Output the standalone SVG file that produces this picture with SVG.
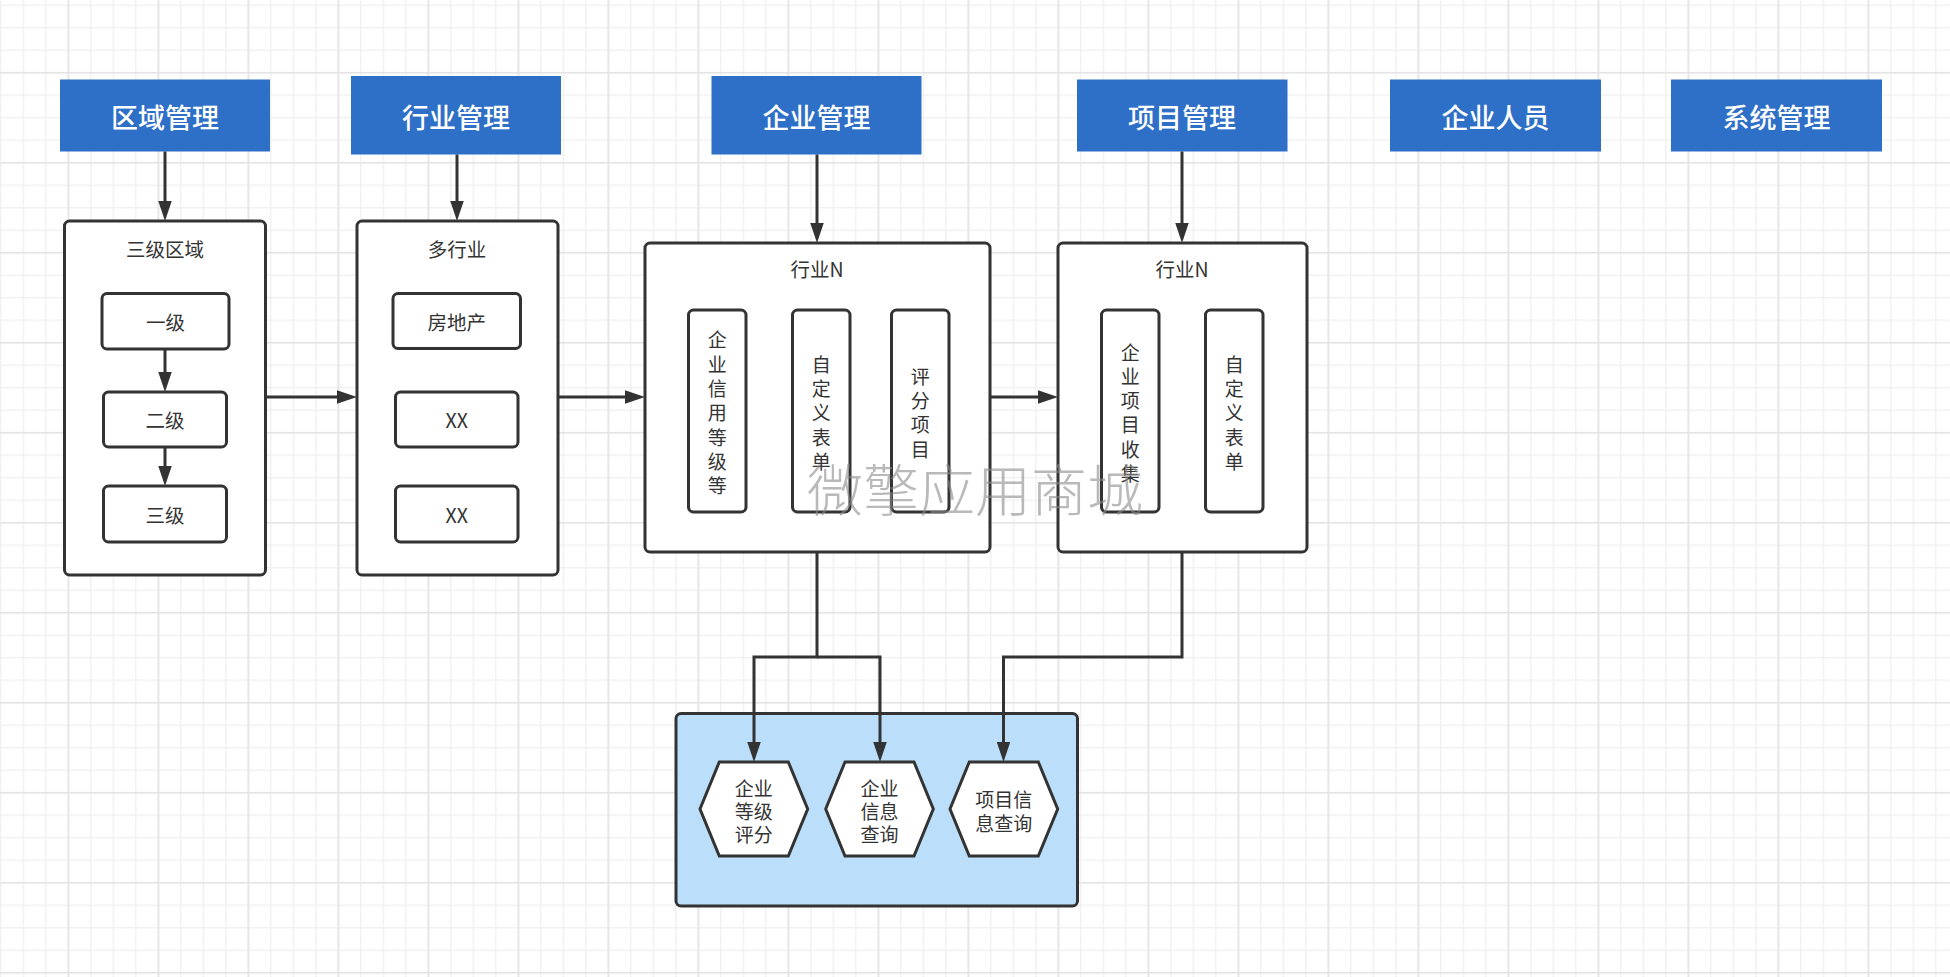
<svg xmlns="http://www.w3.org/2000/svg" width="1950" height="977" viewBox="0 0 1950 977">
<style>
.hdr{fill:#2e6fc7}
.hdrt{fill:#ffffff;font-family:"Noto Sans CJK SC","Noto Sans",sans-serif;font-size:27px;font-weight:500;text-anchor:middle;dominant-baseline:central}
.box{fill:#ffffff;stroke:#333333;stroke-width:3}
.t{fill:#333333;font-family:"Noto Sans CJK SC","Noto Sans",sans-serif;font-size:19.5px;text-anchor:middle;dominant-baseline:central}
.v{font-size:19px}
.conn{fill:none;stroke:#333333;stroke-width:3}
.wm{fill:#8a8a8a;fill-opacity:0.6;font-family:"Noto Sans CJK SC",sans-serif;font-size:56px;font-weight:300;text-anchor:middle;dominant-baseline:central}
</style>
<defs>
<pattern id="gMinor" patternUnits="userSpaceOnUse" x="67.55" y="71.95" width="22.5" height="22.5">
<path d="M0.75 0V22.5M0 0.75H22.5" stroke="#f1f1f1" stroke-width="1.5" fill="none"/>
</pattern>
<pattern id="gMajor" patternUnits="userSpaceOnUse" x="67.55" y="71.95" width="90" height="90">
<path d="M0.75 0V90M0 0.75H90" stroke="#e4e4e4" stroke-width="1.5" fill="none"/>
</pattern>
<marker id="arr" viewBox="0 0 20 13.5" refX="2" refY="6.75" markerWidth="20" markerHeight="13.5" markerUnits="userSpaceOnUse" orient="auto">
<path d="M0 0L20 6.75L0 13.5z" fill="#333333"/>
</marker>
</defs>
<rect width="1950" height="977" fill="#ffffff"/>
<rect width="1950" height="977" fill="url(#gMinor)"/>
<rect width="1950" height="977" fill="url(#gMajor)"/>

<g id="hdr-quyu"><rect class="hdr" x="60" y="79.5" width="210" height="72"/><text class="hdrt" x="165" y="116">区域管理</text></g>
<g id="hdr-hangye"><rect class="hdr" x="351" y="76" width="210" height="78.5"/><text class="hdrt" x="456" y="116">行业管理</text></g>
<g id="hdr-qiye"><rect class="hdr" x="711.5" y="76" width="210" height="78.5"/><text class="hdrt" x="816.5" y="116">企业管理</text></g>
<g id="hdr-xiangmu"><rect class="hdr" x="1077" y="79.5" width="210.5" height="72"/><text class="hdrt" x="1182" y="116">项目管理</text></g>
<g id="hdr-renyuan"><rect class="hdr" x="1390" y="79.5" width="211" height="72"/><text class="hdrt" x="1495.5" y="116">企业人员</text></g>
<g id="hdr-xitong"><rect class="hdr" x="1671" y="79.5" width="211" height="72"/><text class="hdrt" x="1776.5" y="116">系统管理</text></g>

<g id="c-quyu"><rect class="box" x="64.5" y="221" width="201" height="354" rx="5"/><text class="t" x="165" y="248">三级区域</text></g>
<g id="n-yiji"><rect class="box" x="102" y="293.5" width="127" height="55.5" rx="5"/><text class="t" x="165.5" y="321">一级</text></g>
<g id="n-erji"><rect class="box" x="103.5" y="392" width="123" height="55" rx="5"/><text class="t" x="165" y="419.5">二级</text></g>
<g id="n-sanji"><rect class="box" x="103.5" y="486" width="123" height="56" rx="5"/><text class="t" x="165" y="514">三级</text></g>

<g id="c-duohangye"><rect class="box" x="357" y="221" width="201" height="354" rx="5"/><text class="t" x="457" y="248">多行业</text></g>
<g id="n-fangdichan"><rect class="box" x="393" y="293.5" width="127.5" height="55" rx="5"/><text class="t" x="456.7" y="321">房地产</text></g>
<g id="n-xx1"><rect class="box" x="395.5" y="392" width="122.5" height="55" rx="5"/><text class="t" x="456.7" y="419.5">XX</text></g>
<g id="n-xx2"><rect class="box" x="395.5" y="486" width="122.5" height="56" rx="5"/><text class="t" x="456.7" y="514">XX</text></g>

<g id="c-qiye"><rect class="box" x="645" y="243" width="345" height="309" rx="5"/><text class="t" x="817" y="268.5">行业N</text></g>
<g id="n-xinyong"><rect class="box" x="688.5" y="310" width="57.5" height="202" rx="5"/>
<text class="t v" x="717.2"><tspan x="717.2" y="338.3">企</tspan><tspan x="717.2" y="362.6">业</tspan><tspan x="717.2" y="386.9">信</tspan><tspan x="717.2" y="411.2">用</tspan><tspan x="717.2" y="435.5">等</tspan><tspan x="717.2" y="459.8">级</tspan><tspan x="717.2" y="484.1">等</tspan></text></g>
<g id="n-zidingyi1"><rect class="box" x="792.5" y="310" width="57.5" height="202" rx="5"/>
<text class="t v" x="821.2"><tspan x="821.2" y="362.6">自</tspan><tspan x="821.2" y="386.9">定</tspan><tspan x="821.2" y="411.2">义</tspan><tspan x="821.2" y="435.5">表</tspan><tspan x="821.2" y="459.8">单</tspan></text></g>
<g id="n-pingfen"><rect class="box" x="891.5" y="310" width="57.5" height="202" rx="5"/>
<text class="t v" x="920.2"><tspan x="920.2" y="374.8">评</tspan><tspan x="920.2" y="399.1">分</tspan><tspan x="920.2" y="423.4">项</tspan><tspan x="920.2" y="447.7">目</tspan></text></g>

<g id="c-xiangmu"><rect class="box" x="1058" y="243" width="249" height="309" rx="5"/><text class="t" x="1182" y="268.5">行业N</text></g>
<g id="n-shouji"><rect class="box" x="1101.5" y="310" width="57.5" height="202" rx="5"/>
<text class="t v" x="1130.3"><tspan x="1130.3" y="350.5">企</tspan><tspan x="1130.3" y="374.8">业</tspan><tspan x="1130.3" y="399.1">项</tspan><tspan x="1130.3" y="423.4">目</tspan><tspan x="1130.3" y="447.7">收</tspan><tspan x="1130.3" y="472">集</tspan></text></g>
<g id="n-zidingyi2"><rect class="box" x="1205.5" y="310" width="57.5" height="202" rx="5"/>
<text class="t v" x="1234.3"><tspan x="1234.3" y="362.6">自</tspan><tspan x="1234.3" y="386.9">定</tspan><tspan x="1234.3" y="411.2">义</tspan><tspan x="1234.3" y="435.5">表</tspan><tspan x="1234.3" y="459.8">单</tspan></text></g>

<g id="c-query"><rect x="676" y="713.5" width="401.5" height="192.5" rx="5" fill="#bbdefa" stroke="#333333" stroke-width="3"/></g>
<g id="n-pingfen-q"><polygon class="box" points="700,809 719.3,762 788.3,762 807.7,809 788.3,856 719.3,856"/>
<text class="t v"><tspan x="753.8" y="786.7">企业</tspan><tspan x="753.8" y="810">等级</tspan><tspan x="753.8" y="833.3">评分</tspan></text></g>
<g id="n-qiye-q"><polygon class="box" points="825.7,809 845,762 914,762 933.3,809 914,856 845,856"/>
<text class="t v"><tspan x="879.5" y="786.7">企业</tspan><tspan x="879.5" y="810">信息</tspan><tspan x="879.5" y="833.3">查询</tspan></text></g>
<g id="n-xiangmu-q"><polygon class="box" points="950,809 969.3,762 1038.3,762 1057.7,809 1038.3,856 969.3,856"/>
<text class="t v"><tspan x="1003.8" y="798.3">项目信</tspan><tspan x="1003.8" y="821.7">息查询</tspan></text></g>

<g id="connectors">
<path class="conn" marker-end="url(#arr)" d="M165 151.5V203"/>
<path class="conn" marker-end="url(#arr)" d="M457 154.5V203"/>
<path class="conn" marker-end="url(#arr)" d="M817 154.5V225"/>
<path class="conn" marker-end="url(#arr)" d="M1182 151.5V225"/>
<path class="conn" marker-end="url(#arr)" d="M165 349V374"/>
<path class="conn" marker-end="url(#arr)" d="M165 447V468"/>
<path class="conn" marker-end="url(#arr)" d="M266 397H339"/>
<path class="conn" marker-end="url(#arr)" d="M558 397H627"/>
<path class="conn" marker-end="url(#arr)" d="M990 397H1040"/>
<path class="conn" marker-end="url(#arr)" d="M817 552V657H754V744"/>
<path class="conn" marker-end="url(#arr)" d="M817 657H880V744"/>
<path class="conn" marker-end="url(#arr)" d="M1182 552V657H1003.5V744"/>
</g>

<text class="wm" x="975" y="486">微擎应用商城</text>
</svg>
